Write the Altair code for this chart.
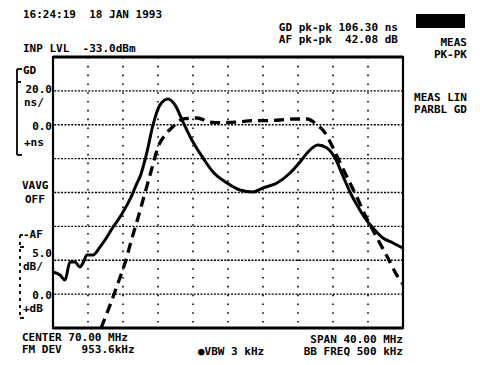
import altair as alt
import pandas as pd

# ---- data ----
# Group delay trace (solid), frequency in MHz, GD in ns
freq_gd = [50.0, 50.8, 51.37, 51.94, 52.51, 53.09, 53.43, 53.89, 54.57, 55.37, 56.17, 56.86,
           57.66, 58.46, 59.03, 59.6, 59.94, 60.74, 61.43, 62.23, 63.14, 63.94, 64.86, 66.0,
           67.14, 68.29, 69.89, 71.37, 72.86, 74.0, 75.6, 77.09, 78.23, 79.14, 80.29, 81.31,
           82.23, 83.14, 83.94, 84.74, 85.66, 86.57, 87.71, 88.86, 90.0]
gd_ns = [-86.9, -88.7, -91.7, -81.0, -81.0, -84.0, -81.6, -76.9, -76.9, -72.2, -66.3, -60.4,
         -54.5, -47.3, -41.5, -34.4, -30.8, -16.1, -0.1, 11.7, 15.2, 11.7, 1.6, -10.2,
         -19.6, -27.9, -34.4, -38.5, -39.7, -37.3, -34.4, -28.5, -22.0, -16.1, -12.0, -13.7,
         -19.6, -30.3, -39.7, -47.4, -55.1, -61.0, -66.9, -69.8, -72.8]

# Amplitude trace (dashed), frequency in MHz, AF in dB
freq_af = [55.49, 56.74, 57.43, 58.23, 59.03, 59.71, 60.51, 61.31, 62.0, 62.8, 63.71, 64.86,
           66.46, 67.94, 69.43, 71.14, 72.86, 74.46, 75.94, 77.66, 79.03, 80.17, 81.09, 82.0,
           83.03, 83.94, 84.74, 85.66, 87.03, 88.29, 89.43, 90.0]
af_db = [-5.0, -0.87, 1.64, 4.59, 8.28, 11.24, 14.93, 18.6, 21.7, 23.5, 24.7, 25.85,
         26.0, 25.4, 25.3, 25.4, 25.6, 25.6, 25.7, 25.85, 25.85, 25.0, 23.8, 21.6,
         18.8, 16.4, 14.3, 11.7, 8.3, 5.3, 2.5, 1.5]

grid_freq = [54, 58, 62, 66, 70, 74, 78, 82, 86]
grid_gd = [-100, -80, -60, -40, -20, 0, 20]

FONT = "DejaVu Sans Mono"
W, H = 350, 271
NB = "\u00a0"

xs = alt.Scale(domain=[50, 90], nice=False, zero=False)
ys = alt.Scale(domain=[-120, 40], nice=False, zero=False)
one = pd.DataFrame({"o": [0]})

vgrid = alt.Chart(pd.DataFrame({"f": grid_freq})).mark_rule(
    color="black", strokeWidth=1.6, strokeDash=[1.6, 7.2]
).encode(x=alt.X("f:Q", scale=xs, axis=None))

hgrid = alt.Chart(pd.DataFrame({"g": grid_gd})).mark_rule(
    color="black", strokeWidth=1.3, strokeDash=[2, 1.4]
).encode(y=alt.Y("g:Q", scale=ys, axis=None))

gd_line = alt.Chart(pd.DataFrame({"f": freq_gd, "v": gd_ns})).mark_line(
    color="black", strokeWidth=3, interpolate="monotone"
).encode(x=alt.X("f:Q", scale=xs, axis=None), y=alt.Y("v:Q", scale=ys, axis=None))

af_line = alt.Chart(pd.DataFrame({"f": freq_af, "db": af_db})).transform_calculate(
    v="4*datum.db-100"
).mark_line(
    color="black", strokeWidth=3.3, strokeDash=[10, 6], clip=True, interpolate="monotone"
).encode(x=alt.X("f:Q", scale=xs, axis=None), y=alt.Y("v:Q", scale=ys, axis=None))


def txt(s, x, y, align="left"):
    return alt.Chart(one).mark_text(
        font=FONT, fontSize=11, fontWeight="bold", align=align,
        baseline="middle", color="black"
    ).encode(x=alt.value(x), y=alt.value(y), text=alt.value(s.replace(" ", NB)))


def seg(x1, y1, x2, y2, w=1.5, dash=None):
    kw = dict(color="black", strokeWidth=w)
    if dash:
        kw["strokeDash"] = dash
    return alt.Chart(one).mark_rule(**kw).encode(
        x=alt.value(x1), y=alt.value(y1), x2=alt.value(x2), y2=alt.value(y2))


texts = [
    txt("16:24:19  18 JAN 1993", -30, -42),
    txt("INP LVL  -33.0dBm", -30, -8),
    txt("GD pk-pk 106.30 ns", 345, -29, "right"),
    txt("AF pk-pk  42.08 dB", 345, -17, "right"),
    txt("MEAS", 414, -14, "right"),
    txt("PK-PK", 414, -2, "right"),
    txt("MEAS LIN", 414, 41, "right"),
    txt("PARBL GD", 414, 53, "right"),
    txt("GD", -30, 14),
    txt("20.0", -1, 33, "right"),
    txt("ns/", -29, 46),
    txt("0.0", -1, 70, "right"),
    txt("+ns", -29, 86),
    txt("VAVG", -31, 129),
    txt("OFF", -28, 143),
    txt("-AF", -30, 178),
    txt("5.0", -1, 197, "right"),
    txt("dB/", -30, 210),
    txt("0.0", -1, 239, "right"),
    txt("+dB", -30, 252),
    txt("CENTER 70.00 MHz", -31, 281),
    txt("FM DEV   953.6kHz", -31, 293),
    txt("●VBW 3 kHz", 145, 295),
    txt("SPAN 40.00 MHz", 350, 283, "right"),
    txt("BB FREQ 500 kHz", 350, 295, "right"),
]

shapes = [
    # GD bracket
    seg(-36, 12, -36, 98, 1.8),
    seg(-36, 12, -31, 12, 1.8),
    seg(-36, 25, -32, 25, 1.8),
    seg(-36, 98, -31, 98, 1.8),
    # AF bracket (dashed)
    seg(-33, 178, -33, 261, 1.8, [3, 4]),
    seg(-33, 178, -30, 178, 1.8),
    seg(-33, 190, -29, 190, 1.8),
    seg(-33, 261, -29, 261, 1.8),
    # black softkey box
    alt.Chart(one).mark_rect(color="black").encode(
        x=alt.value(363), x2=alt.value(412), y=alt.value(-43), y2=alt.value(-29)),
    # heavier top/bottom frame
    seg(0, 0, W, 0, 3),
    seg(0, H, W, H, 3),
]

chart = alt.layer(vgrid, hgrid, gd_line, af_line, *shapes, *texts).properties(
    width=W, height=H,
    autosize=alt.AutoSizeParams(type="none"),
    padding={"left": 45, "top": 49, "right": 69, "bottom": 29},
    background="white",
).configure_view(stroke="black", strokeWidth=2.2)

chart.save("out.html", embed_options={"renderer": "svg", "actions": False})
